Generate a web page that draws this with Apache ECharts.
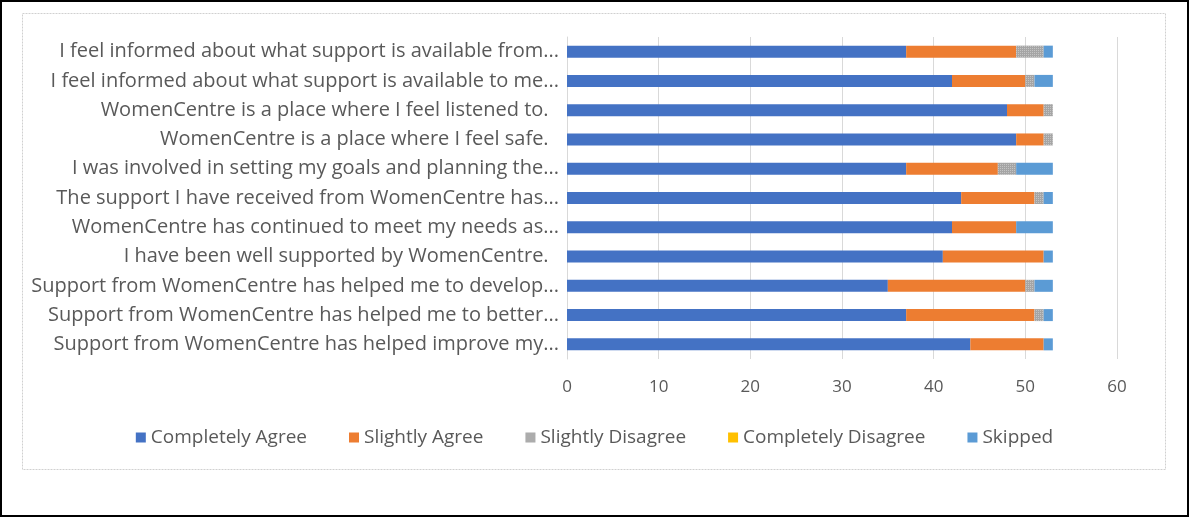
<!DOCTYPE html>
<html><head><meta charset="utf-8">
<script src="https://cdn.jsdelivr.net/npm/echarts@6/dist/echarts.min.js"></script>
<style>html,body{margin:0;padding:0;background:#fff}#c{width:1189px;height:517px}</style>
</head><body><div id="c"></div>
<script>
const categories = [
  "I feel informed about what support is available from...",
  "I feel informed about what support is available to me...",
  "WomenCentre is a place where I feel listened to.  ",
  "WomenCentre is a place where I feel safe.  ",
  "I was involved in setting my goals and planning the...",
  "The support I have received from WomenCentre has...",
  "WomenCentre has continued to meet my needs as...",
  "I have been well supported by WomenCentre.  ",
  "Support from WomenCentre has helped me to develop...",
  "Support from WomenCentre has helped me to better...",
  "Support from WomenCentre has helped improve my..."
];
const seriesNames = ["Completely Agree","Slightly Agree","Slightly Disagree","Completely Disagree","Skipped"];
const completelyAgree   = [37,42,48,49,37,43,42,41,35,37,44];
const slightlyAgree     = [12, 8, 4, 3,10, 8, 7,11,15,14, 8];
const slightlyDisagree  = [ 3, 1, 1, 1, 2, 1, 0, 0, 1, 1, 0];
const completelyDisagree= [ 0, 0, 0, 0, 0, 0, 0, 0, 0, 0, 0];
const skipped           = [ 1, 2, 0, 0, 4, 1, 4, 1, 2, 1, 1];
const xTicks = [0,10,20,30,40,50,60];

const colors = ["#4472c4","#ed7d31","#a5a5a5","#ffc000","#5b9bd5"];
const dataSets = [completelyAgree, slightlyAgree, slightlyDisagree, completelyDisagree, skipped];
const font = "'Open Sans', sans-serif";
const chart = echarts.init(document.getElementById('c'));
chart.setOption({
  animation:false,
  color: colors,
  textStyle:{fontFamily:font},
  graphic:[
    {type:'rect', shape:{x:1,y:1,width:1187,height:515}, style:{fill:'none', stroke:'#000', lineWidth:2}, silent:true},
    {type:'rect', shape:{x:22.5,y:13.5,width:1143,height:456}, style:{fill:'none', stroke:'#d0d0d0', lineWidth:1, lineDash:[2,1]}, silent:true}
  ],
  grid:{left:567, right:72, top:37, bottom:158, containLabel:false},
  legend:{
    data: seriesNames, bottom: 65, left:'center',
    itemWidth:10, itemHeight:10, itemGap:42, icon:'rect',
    textStyle:{color:'#595959', fontSize:19, fontFamily:font}
  },
  xAxis:{
    type:'value', min:xTicks[0], max:xTicks[xTicks.length-1], interval:10,
    axisLine:{show:false}, axisTick:{show:false},
    splitLine:{lineStyle:{color:'#d9d9d9', width:1}},
    axisLabel:{color:'#595959', fontSize:17, margin:20, fontFamily:font}
  },
  yAxis:{
    type:'category', data: categories, inverse:true,
    axisLine:{show:true, lineStyle:{color:'#d9d9d9'}}, axisTick:{show:false},
    axisLabel:{color:'#595959', fontSize:20, margin:8, fontFamily:font}
  },
  series: seriesNames.map((n,i)=>({
    name:n, type:'bar', stack:'total', data: dataSets[i], barWidth:'41%',
    itemStyle: i===2 ? {color: colors[i], decal:{symbol:'rect', symbolSize:1, dashArrayX:[1,1], dashArrayY:[1,1], color:'rgba(255,255,255,0.35)'}} : {color: colors[i]}
  }))
});
</script></body></html>
